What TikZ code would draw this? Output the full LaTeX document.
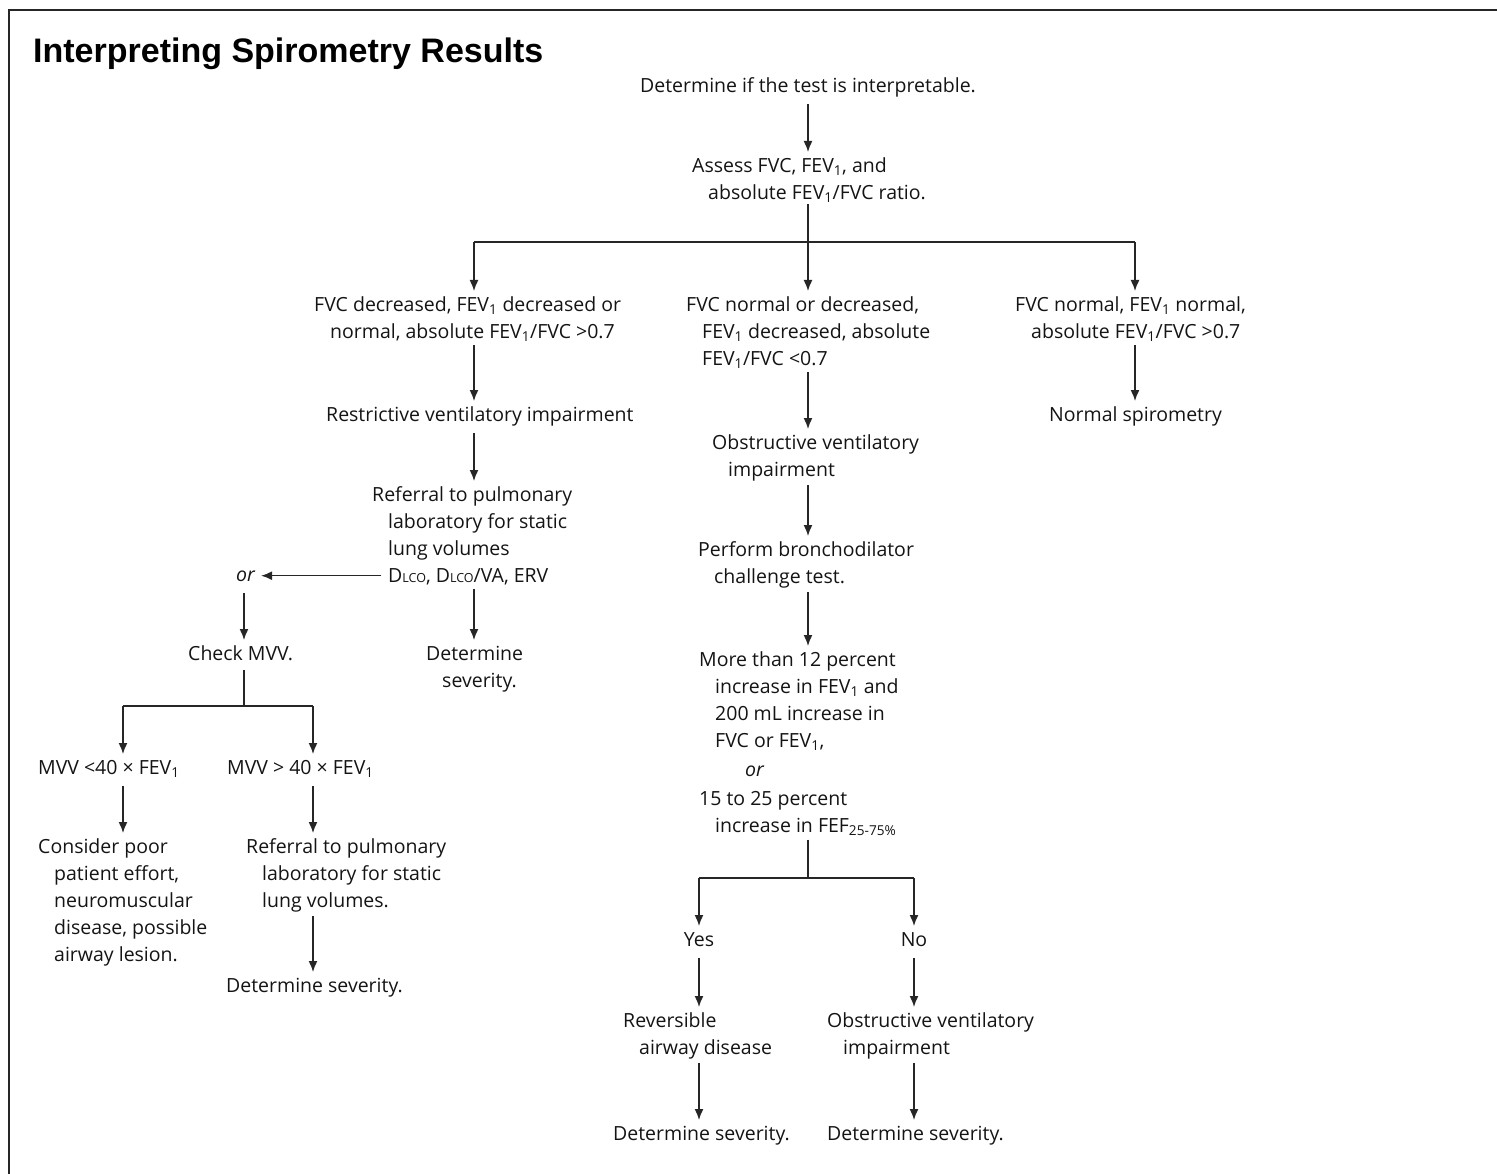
\documentclass[tikz,border=0pt]{standalone}
\usepackage{fontspec}
\setmainfont{Open Sans}
\newfontfamily\titlefont{Liberation Sans}
\usetikzlibrary{arrows.meta}
\newcommand\hind{\hspace*{16pt}}
\newcommand\lcosub{{\fontsize{12.5}{12.5}\selectfont LCO}}
\begin{document}
\begin{tikzpicture}[x=1pt,y=-1pt,
 txt/.style={anchor=north west, inner sep=0pt, align=left, font=\fontsize{19.5}{27}\selectfont, text=black!92},
 arr/.style={draw=black!85, line width=1.5pt, -{Latex[length=11pt,width=9pt]}, shorten <=4pt, shorten >=1pt},
 ln/.style={draw=black!85, line width=1.5pt}]
\useasboundingbox (0,0) rectangle (1497,1174);
\draw[line width=2.5pt, black!85] (9,1180) -- (9,10) -- (1505,10);
\node[anchor=base west, inner sep=0pt, font=\titlefont\bfseries\fontsize{34}{40}\selectfont] (title) at (33,63) {Interpreting Spirometry Results};

\node[txt] (t1) at (640,73) {\strut Determine if the test is interpretable.};
\node[txt] (assess) at (692,153) {\strut Assess FVC, FEV\textsubscript{1}, and\\\hind absolute FEV\textsubscript{1}/FVC ratio.};
\node[txt] (fvcA) at (314,292) {\strut FVC decreased, FEV\textsubscript{1} decreased or\\\hind normal, absolute FEV\textsubscript{1}/FVC >0.7};
\node[txt] (fvcB) at (686,292) {\strut FVC normal or decreased,\\\hind FEV\textsubscript{1} decreased, absolute\\\hind FEV\textsubscript{1}/FVC <0.7};
\node[txt] (fvcC) at (1015,292) {\strut FVC normal, FEV\textsubscript{1} normal,\\\hind absolute FEV\textsubscript{1}/FVC >0.7};
\node[txt] (restr) at (326,402) {\strut Restrictive ventilatory impairment};
\node[txt] (refA) at (372,482) {\strut Referral to pulmonary\\\hind laboratory for static\\\hind lung volumes\\\hind D\lcosub, D\lcosub/VA, ERV};
\node[txt, font=\fontsize{19.5}{27}\selectfont\itshape] (orn) at (236,562) {\strut or};
\node[txt] (sevA) at (426,641) {\strut Determine\\\hind severity.};
\node[txt] (mvv) at (188,641) {\strut Check MVV.};
\node[txt] (mvvlo) at (38,755) {\strut MVV <40 × FEV\textsubscript{1}};
\node[txt] (mvvhi) at (227,755) {\strut MVV > 40 × FEV\textsubscript{1}};
\node[txt] (consider) at (38,834) {\strut Consider poor\\\hind patient effort,\\\hind neuromuscular\\\hind disease, possible\\\hind airway lesion.};
\node[txt] (refB) at (246,834) {\strut Referral to pulmonary\\\hind laboratory for static\\\hind lung volumes.};
\node[txt] (sevB) at (226,973) {\strut Determine severity.};
\node[txt] (obstr) at (712,430) {\strut Obstructive ventilatory\\\hind impairment};
\node[txt] (perform) at (698,537) {\strut Perform bronchodilator\\\hind challenge test.};
\node[txt] (more) at (699,647) {\strut More than 12 percent\\\hind increase in FEV\textsubscript{1} and\\\hind 200 mL increase in\\\hind FVC or FEV\textsubscript{1},\\[2pt]\hspace*{46pt}\textit{or}\\[2pt]15 to 25 percent\\\hind increase in FEF\textsubscript{25-75\%}};
\node[txt, anchor=north] (yes) at (699,927) {\strut Yes};
\node[txt, anchor=north] (no) at (914,927) {\strut No};
\node[txt] (rev) at (623,1008) {\strut Reversible\\\hind airway disease};
\node[txt] (obsB) at (827,1008) {\strut Obstructive ventilatory\\\hind impairment};
\node[txt] (sevC) at (613,1121) {\strut Determine severity.};
\node[txt] (sevD) at (827,1121) {\strut Determine severity.};
\node[txt] (normal) at (1049,402) {\strut Normal spirometry};

\coordinate (xA) at (474,0);
\coordinate (xB) at (808,0);
\coordinate (xC) at (1135,0);
\coordinate (xOr) at (244,0);
\coordinate (xL) at (123,0);
\coordinate (xR) at (313,0);
\coordinate (xY) at (699,0);
\coordinate (xN) at (914,0);
\coordinate (bar1) at (808,242);
\coordinate (bar1a) at (474,242);
\coordinate (bar1c) at (1135,242);
\coordinate (bar2) at (244,706);
\coordinate (bar2a) at (123,706);
\coordinate (bar2b) at (313,706);
\coordinate (bar3) at (808,878);
\coordinate (bar3a) at (699,878);
\coordinate (bar3b) at (914,878);

\draw[arr] (t1.south -| xB) -- (assess.north -| xB);
\draw[ln, shorten <=2pt] (assess.south -| xB) -- (bar1);
\draw[ln] (bar1a) -- (bar1c);
\draw[arr, shorten <=0pt] (bar1a) -- (fvcA.north -| bar1a);
\draw[arr, shorten <=0pt] (bar1) -- (fvcB.north -| bar1);
\draw[arr, shorten <=0pt] (bar1c) -- (fvcC.north -| bar1c);

\draw[arr] (fvcA.south -| xA) -- (restr.north -| xA);
\draw[arr] (restr.south -| xA) -- (refA.north -| xA);
\draw[arr] (refA.south -| xA) -- (sevA.north -| xA);
\draw[arr, shorten <=0pt, shorten >=6pt] ([xshift=9pt]refA.west |- orn.center) -- (orn.east);
\draw[arr] (orn.south -| xOr) -- (mvv.north -| xOr);
\draw[ln, shorten <=2pt] (mvv.south -| xOr) -- (bar2);
\draw[ln] (bar2a) -- (bar2b);
\draw[arr, shorten <=0pt] (bar2a) -- (mvvlo.north -| bar2a);
\draw[arr, shorten <=0pt] (bar2b) -- (mvvhi.north -| bar2b);
\draw[arr] (mvvlo.south -| xL) -- (consider.north -| xL);
\draw[arr] (mvvhi.south -| xR) -- (refB.north -| xR);
\draw[arr] (refB.south -| xR) -- (sevB.north -| xR);

\draw[arr] (fvcB.south -| xB) -- (obstr.north -| xB);
\draw[arr] (obstr.south -| xB) -- (perform.north -| xB);
\draw[arr] (perform.south -| xB) -- (more.north -| xB);
\draw[ln, shorten <=4pt] (more.south -| xB) -- (bar3);
\draw[ln] (bar3a) -- (bar3b);
\draw[arr, shorten <=0pt] (bar3a) -- (yes.north -| bar3a);
\draw[arr, shorten <=0pt] (bar3b) -- (no.north -| bar3b);
\draw[arr] (yes.south -| xY) -- (rev.north -| xY);
\draw[arr] (no.south -| xN) -- (obsB.north -| xN);
\draw[arr] (rev.south -| xY) -- (sevC.north -| xY);
\draw[arr] (obsB.south -| xN) -- (sevD.north -| xN);

\draw[arr] (fvcC.south -| xC) -- (normal.north -| xC);
\end{tikzpicture}
\end{document}
